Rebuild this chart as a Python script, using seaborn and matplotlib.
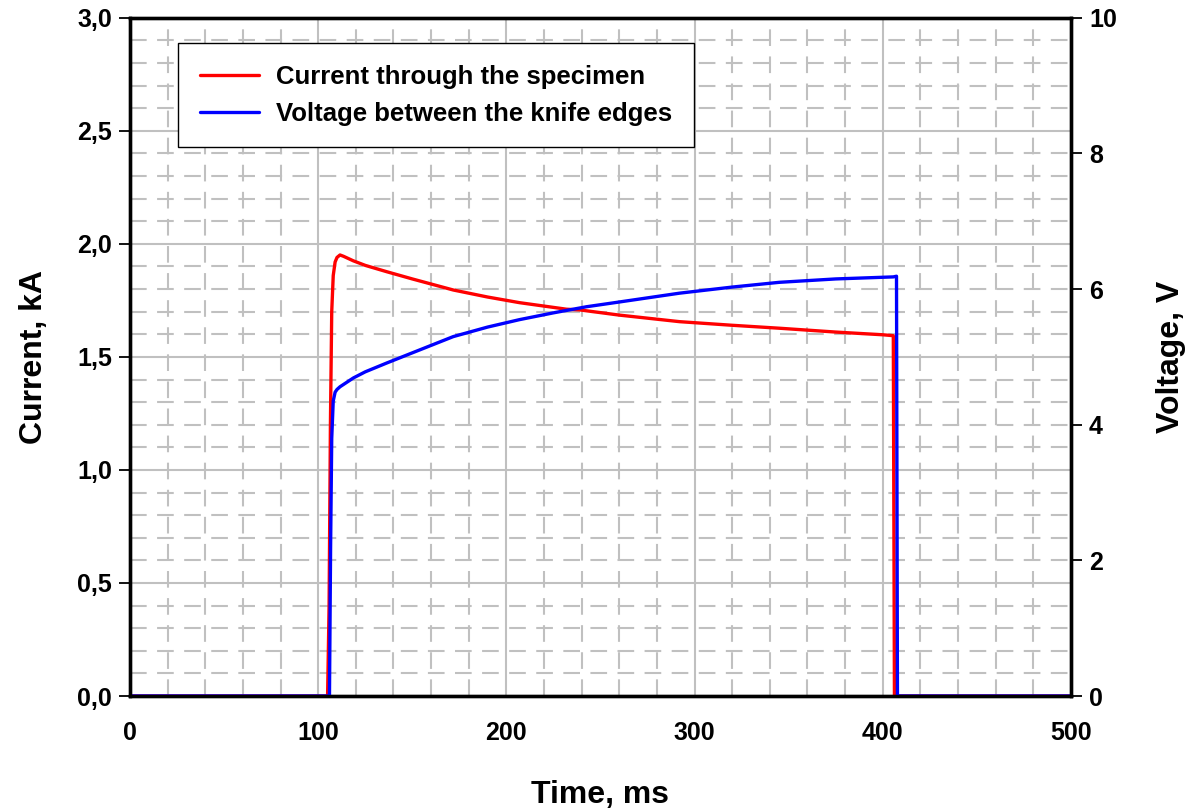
import numpy as np
import pandas as pd
import matplotlib
matplotlib.use("Agg")
import matplotlib.pyplot as plt
from matplotlib.ticker import MultipleLocator, FuncFormatter
import seaborn as sns

# values
time_current = [0, 105.0, 105.8, 106.5, 107.2, 108.0, 109.0, 110.0, 111.6, 113.5, 118.7, 125.0,
                136.4, 150.0, 171.8, 190.0, 207.0, 232.0, 239.0, 260.0, 292.0, 320.0, 345.0,
                375.0, 400.0, 405.6, 406.2, 500]
current_ka = [0, 0, 0.40, 1.20, 1.70, 1.86, 1.92, 1.94, 1.951, 1.945, 1.925, 1.905,
              1.877, 1.845, 1.796, 1.765, 1.740, 1.711, 1.708, 1.685, 1.656, 1.640, 1.627,
              1.610, 1.598, 1.594, 0, 0]

time_voltage = [0, 106.0, 106.6, 107.2, 108.0, 109.0, 110.0, 111.6, 118.7, 125.0, 136.4,
                150.0, 171.8, 190.0, 207.0, 225.0, 242.6, 260.0, 292.0, 320.0, 345.0, 375.0,
                405.6, 407.3, 407.8, 500]
voltage_v = [0, 0, 2.2, 3.8, 4.35, 4.48, 4.52, 4.56, 4.69, 4.78, 4.91,
             5.06, 5.30, 5.44, 5.55, 5.65, 5.74, 5.81, 5.94, 6.03, 6.10, 6.15,
             6.18, 6.19, 0, 0]

sns.set_style("white")
plt.rcParams['font.family'] = ['Liberation Sans', 'DejaVu Sans']
plt.rcParams['font.weight'] = 'bold'
plt.rcParams['text.color'] = 'black'
plt.rcParams['axes.labelcolor'] = 'black'
plt.rcParams['xtick.color'] = 'black'
plt.rcParams['ytick.color'] = 'black'

df_i = pd.DataFrame({'t': time_current, 'i': current_ka})
df_u = pd.DataFrame({'t': time_voltage, 'u': voltage_v})

fig, ax = plt.subplots(figsize=(11.86, 8.1), dpi=100)
fig.subplots_adjust(left=0.1096, right=0.903, bottom=0.1407, top=0.978)
ax2 = ax.twinx()

sns.lineplot(data=df_i, x='t', y='i', ax=ax, color='#ff0000', lw=2.4,
             sort=False, estimator=None, label='Current through the specimen', legend=False)
sns.lineplot(data=df_u, x='t', y='u', ax=ax2, color='#0000ff', lw=2.4,
             sort=False, estimator=None, label='Voltage between the knife edges', legend=False)

ax.set_xlim(0, 500)
ax.set_ylim(0, 3.0)
ax2.set_ylim(0, 10)

ax.xaxis.set_major_locator(MultipleLocator(100))
ax.xaxis.set_minor_locator(MultipleLocator(20))
ax.yaxis.set_major_locator(MultipleLocator(0.5))
ax.yaxis.set_minor_locator(MultipleLocator(0.1))
ax2.yaxis.set_major_locator(MultipleLocator(2))
ax.yaxis.set_major_formatter(FuncFormatter(lambda v, p: f"{v:.1f}".replace('.', ',')))

# grid: solid majors, dashed minors
ax.grid(which='major', color='#c0c0c0', lw=1.5, ls='-')
ax.grid(which='minor', color='#c0c0c0', lw=1.5, ls=(0, (8, 5)))
ax.set_axisbelow(True)

for a in (ax, ax2):
    for s in a.spines.values():
        s.set_linewidth(2.4)
        s.set_color('black')
    a.tick_params(which='major', direction='out', length=8, width=1.3,
                  labelsize=18, color='black', labelcolor='black')
    a.tick_params(which='minor', length=0)
ax.tick_params(axis='x', pad=10)
ax.tick_params(axis='y', pad=5)
ax2.tick_params(axis='y', pad=5)
for lab in ax.get_xticklabels() + ax.get_yticklabels() + ax2.get_yticklabels():
    lab.set_fontweight('bold')

ax.set_xlabel('Time, ms', fontsize=23, fontweight='bold', labelpad=25)
ax.set_ylabel('Current, kA', fontsize=23, fontweight='bold', labelpad=20)
ax2.set_ylabel('Voltage, V', fontsize=23, fontweight='bold', labelpad=28)

h1, l1 = ax.get_legend_handles_labels()
h2, l2 = ax2.get_legend_handles_labels()
leg = ax2.legend(h1 + h2, l1 + l2, loc='upper left', bbox_to_anchor=(0.051, 0.963),
                 borderaxespad=0, fancybox=False, framealpha=1, edgecolor='black',
                 prop={'size': 18.5, 'weight': 'bold'}, handlelength=2.3,
                 borderpad=0.85, labelspacing=0.5, handletextpad=0.65)
leg.get_frame().set_linewidth(1.0)

fig.savefig('out.png', dpi=100)
